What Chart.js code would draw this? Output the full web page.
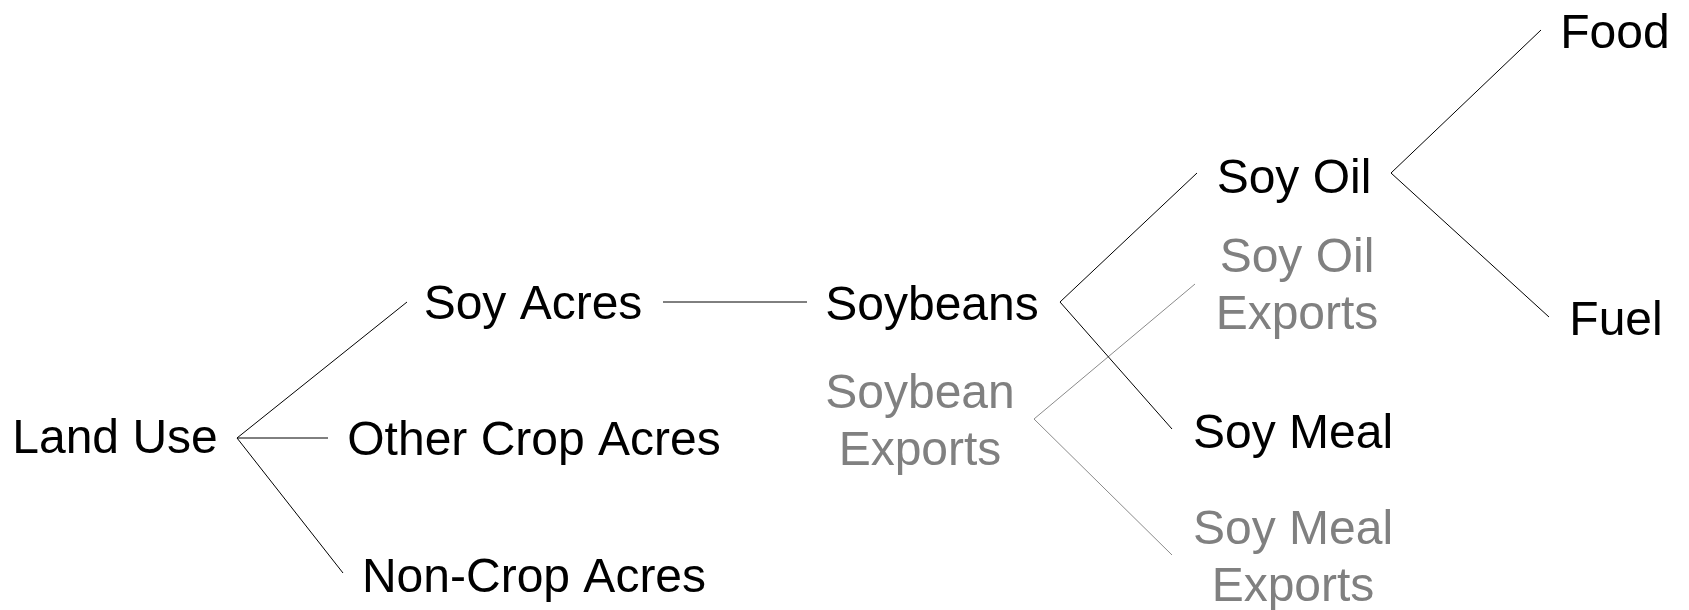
<!DOCTYPE html>
<html>
<head>
<meta charset="utf-8">
<script src="https://cdn.jsdelivr.net/npm/chart.js@4"></script>
<style>
  html, body { margin: 0; padding: 0; background: #fff; }
  #wrap { width: 1689px; height: 610px; }
</style>
</head>
<body>
<div id="wrap"><canvas id="arbol"></canvas></div>
<script>
// nodos del diagrama (centro x, linea base y de la primera linea)
const nodeNames = [
  ['Land Use'],
  ['Soy Acres'],
  ['Other Crop Acres'],
  ['Non-Crop Acres'],
  ['Soybeans'],
  ['Soybean', 'Exports'],
  ['Soy Oil'],
  ['Soy Oil', 'Exports'],
  ['Soy Meal'],
  ['Soy Meal', 'Exports'],
  ['Food'],
  ['Fuel']
];
const nodeX = [115, 533, 534, 534, 932, 920, 1294, 1297, 1293, 1293, 1615, 1616];
const nodeY = [453, 319, 455, 592, 320, 408, 193, 272, 448, 544, 48, 335];
const nodeExport = [false, false, false, false, false, true, false, true, false, true, false, false];

// ramas: inicio y fin
const linkX1 = [237, 237, 237, 663, 1060, 1060, 1391, 1391];
const linkY1 = [438, 438, 438, 302, 302, 302, 173, 173];
const linkX2 = [407, 328, 343, 807, 1197, 1172, 1541, 1549];
const linkY2 = [302, 438, 573, 302, 173, 429, 30, 317];

const exportX1 = [1034, 1034];
const exportY1 = [419, 419];
const exportX2 = [1195, 1172];
const exportY2 = [284, 555];

function segmentos(x1, y1, x2, y2) {
  const pts = [];
  x1.forEach((x, i) => {
    pts.push({ x: x, y: y1[i] });
    pts.push({ x: x2[i], y: y2[i] });
    pts.push({ x: null, y: null });
  });
  return pts;
}

const etiquetasPlugin = {
  id: 'etiquetas',
  afterDatasetsDraw(chart) {
    const ctx = chart.ctx;
    const sx = chart.scales.x;
    const sy = chart.scales.y;
    ctx.save();
    ctx.font = '48px "Liberation Sans", Arial, sans-serif';
    ctx.textAlign = 'center';
    ctx.textBaseline = 'alphabetic';
    nodeNames.forEach((lineas, i) => {
      ctx.fillStyle = nodeExport[i] ? '#808080' : '#000000';
      lineas.forEach((txt, j) => {
        const px = sx.getPixelForValue(nodeX[i]);
        const py = sy.getPixelForValue(nodeY[i] + j * 57);
        ctx.fillText(txt, px, py);
      });
    });
    ctx.restore();
  }
};

new Chart(document.getElementById('arbol'), {
  type: 'scatter',
  data: {
    datasets: [
      {
        data: segmentos(linkX1, linkY1, linkX2, linkY2),
        showLine: true,
        spanGaps: false,
        borderColor: '#000000',
        borderWidth: 1,
        pointRadius: 0
      },
      {
        data: segmentos(exportX1, exportY1, exportX2, exportY2),
        showLine: true,
        spanGaps: false,
        borderColor: '#8a8a8a',
        borderWidth: 1,
        pointRadius: 0
      }
    ]
  },
  options: {
    responsive: true,
    maintainAspectRatio: false,
    animation: false,
    layout: { padding: 0 },
    plugins: {
      legend: { display: false },
      tooltip: { enabled: false }
    },
    scales: {
      x: { type: 'linear', min: 0, max: 1689, display: false },
      y: { type: 'linear', min: 0, max: 610, reverse: true, display: false }
    }
  },
  plugins: [etiquetasPlugin]
});
</script>
</body>
</html>
